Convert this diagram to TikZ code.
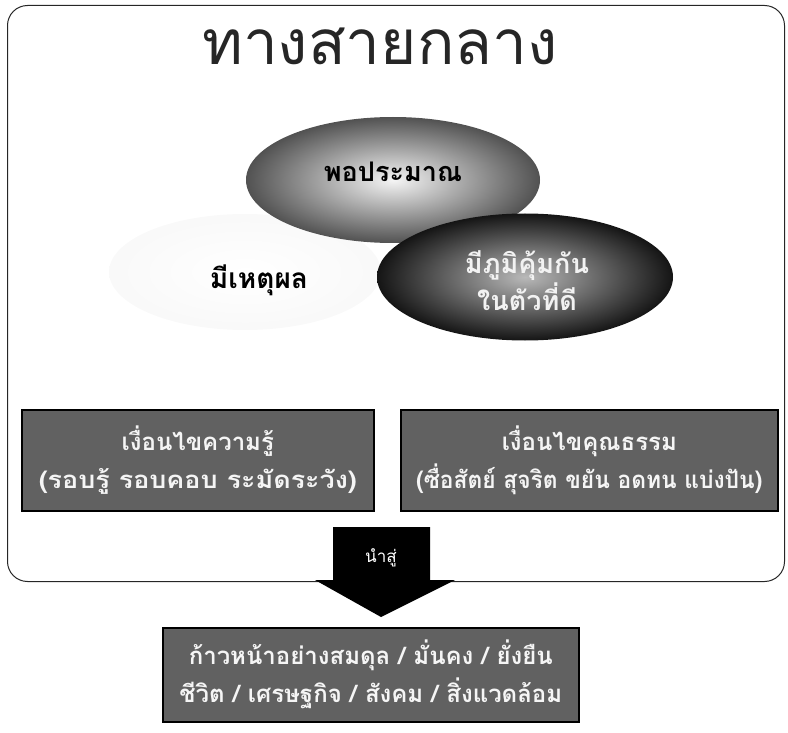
\documentclass[tikz,border=0pt]{standalone}
\usepackage{fontspec}
\setmainfont{Loma}[Script=Thai]
\usetikzlibrary{shapes.geometric}
\tikzset{
  frame/.style={draw=black!85, line width=1pt, rounded corners=20pt},
  darkbox/.style={draw=black, line width=1.6pt, fill=black!62, text=gray!8,
    font=\bfseries\fontsize{24}{38}\selectfont, align=center, inner sep=0pt},
  ovaltext/.style={font=\bfseries\fontsize{27}{37}\selectfont, align=center},
}
\begin{document}
\begin{tikzpicture}[x=1pt,y=-1pt]
\useasboundingbox (0,0) rectangle (788,733);
% outer frame
\node[frame, minimum width=777pt, minimum height=576pt, anchor=north west] (frame) at (7,5) {};
\node[font=\fontsize{62}{68}\selectfont, text=black!85] (title) at (380,46) {ทางสายกลาง};
% ovals
\node[ellipse, minimum width=272pt, minimum height=116pt, shade, outer color=gray!5, inner color=white] (reason) at (245,272) {};
\node[ellipse, minimum width=294pt, minimum height=126pt, shade, outer color=black!68, inner color=gray!8] (moder) at (393,180) {};
\node[ellipse, minimum width=296pt, minimum height=127pt, shade, outer color=black!92, inner color=gray!55] (immun) at (525,277) {};
\node[ovaltext, text=black] (modertxt) at (393,172) {พอประมาณ};
\node[ovaltext, text=gray!10] (immuntxt) at (527,281) {มีภูมิคุ้มกัน\\ในตัวที่ดี};
\node[ovaltext, text=black, font=\bfseries\fontsize{28}{34}\selectfont] (reasontxt) at (259,280) {มีเหตุผล};
% condition boxes
\node[darkbox, minimum width=352pt, minimum height=101pt, anchor=north west] (know) at (21,409) {};
\node[darkbox, minimum width=377pt, minimum height=101pt, anchor=north west] (virtue) at (400,409) {};
\node[darkbox, draw=none, fill=none] (knowtxt) at (know.center) {เงื่อนไขความรู้\\\scalebox{1.12}[1]{(รอบรู้ รอบคอบ ระมัดระวัง)}};
\node[darkbox, draw=none, fill=none] (virtuetxt) at (virtue.center) {เงื่อนไขคุณธรรม\\\scalebox{0.95}[1]{(ซื่อสัตย์ สุจริต ขยัน อดทน แบ่งปัน)}};
% arrow
\coordinate (a1) at (333,527);
\coordinate (a2) at (430,527);
\coordinate (a3) at (430,580);
\coordinate (a4) at (455,580);
\coordinate (tip) at (381,617);
\coordinate (a6) at (315,580);
\coordinate (a7) at (333,580);
\fill[black] (a1) -- (a2) -- (a3) -- (a4) -- (tip) -- (a6) -- (a7) -- cycle;
\node[text=white, font=\fontsize{17}{20}\selectfont] (leads) at (381,558) {นำสู่};
% result box
\node[darkbox, minimum width=416pt, minimum height=94pt, anchor=north west] (result) at (162,627) {};
\node[darkbox, draw=none, fill=none] (resulttxt) at (result.center) {ก้าวหน้าอย่างสมดุล / มั่นคง / ยั่งยืน\\ชีวิต / เศรษฐกิจ / สังคม / สิ่งแวดล้อม};
\end{tikzpicture}
\end{document}
